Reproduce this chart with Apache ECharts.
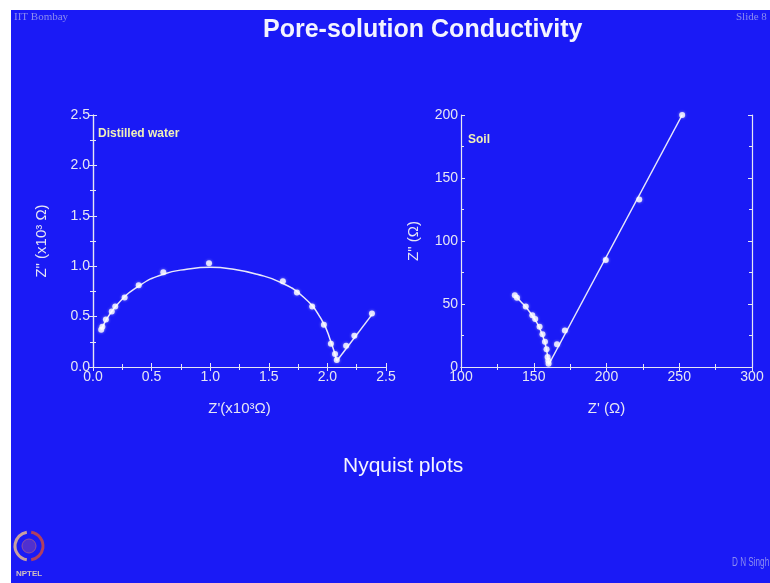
<!DOCTYPE html>
<html><head><meta charset="utf-8">
<script src="https://cdn.jsdelivr.net/npm/echarts@6/dist/echarts.min.js"></script>
<style>html,body{margin:0;padding:0;background:#fff}#c{width:770px;height:583px}</style>
</head><body><div id="c"></div>
<script>
// Distilled water (x10^3 ohm)
const waterPoints = [[0.07,0.37],[0.08,0.40],[0.11,0.47],[0.16,0.55],[0.19,0.60],[0.27,0.69],[0.39,0.81],[0.60,0.94],[0.99,1.03],[1.62,0.85],[1.74,0.74],[1.87,0.60],[1.97,0.42],[2.03,0.23],[2.065,0.13],[2.08,0.07],[2.16,0.21],[2.23,0.31],[2.38,0.53]];
const waterArc = [[0.07,0.37],[0.2,0.61],[0.4,0.81],[0.6,0.92],[0.8,0.97],[1.0,0.99],[1.2,0.97],[1.4,0.92],[1.6,0.84],[1.8,0.69],[1.95,0.47],[2.03,0.25],[2.08,0.06]];
const waterTail = [[2.08,0.06],[2.38,0.52]];
// Soil (ohm)
const soilPoints = [[137,57],[138.5,55],[144.5,48],[149,41],[151,38],[154,32],[156,26],[157.7,20],[158.8,14],[159.5,8],[160,5],[160.2,2.5],[166,18],[171.4,29],[199.5,85],[222.5,133],[252,200]];
const soilArc = [[137,57],[141,52],[145,47],[150,39],[154,31],[157.5,20],[159.5,9],[160.3,2]];
const soilTail = [[160.3,2],[252,200]];
const leftXTicks = [0,2.5,0.5];
const leftYTicks = [0,2.5,0.5];
const rightXTicks = [100,300,50];
const rightYTicks = [0,200,50];

const BLUE = '#1a1af6';
const FG = '#e6e6f4';
const FONT = 'Liberation Sans, Arial';
const lab = {color: FG, fontFamily: FONT, fontSize: 14};
function axisX(gi, t, name, fmt, pos) {
  return {type:'value', gridIndex: gi, min:t[0], max:t[1], interval:t[2], position: pos||'bottom',
    name: pos==='top'?'':name, nameLocation:'middle', nameGap: 34,
    nameTextStyle:{color:FG, fontFamily:FONT, fontSize:15},
    axisLine:{show:true, lineStyle:{color:FG, width:1.2}},
    axisTick:{show:true, inside:true, length:4, lineStyle:{color:FG}},
    minorTick:{show:true, splitNumber:2, length:3, lineStyle:{color:FG}},
    axisLabel: pos==='top'?{show:false}:Object.assign({formatter: fmt, margin: 3}, lab),
    splitLine:{show:false}};
}
function axisY(gi, t, name, fmt, pos, gap) {
  return {type:'value', gridIndex: gi, min:t[0], max:t[1], interval:t[2], position: pos||'left',
    name: pos==='right'?'':name, nameLocation:'middle', nameGap: gap||40, nameRotate: 90,
    nameTextStyle:{color:FG, fontFamily:FONT, fontSize:15},
    axisLine:{show:true, lineStyle:{color:FG, width:1.2}},
    axisTick:{show:true, inside:true, length:4, lineStyle:{color:FG}},
    minorTick:{show:true, splitNumber:2, length:3, lineStyle:{color:FG}},
    axisLabel: pos==='right'?{show:false}:Object.assign({formatter: fmt, margin: 3}, lab),
    splitLine:{show:false}};
}
const f1 = v => v.toFixed(1);
const f0 = v => String(v);
const chart = echarts.init(document.getElementById('c'));
const lineStyle = {color:'#e8e8fa', width:1.5};
const pt = {color:'#ffffff', shadowColor:'rgba(255,255,255,0.6)', shadowBlur:3};
chart.setOption({
  backgroundColor:'#ffffff',
  animation:false,
  graphic:[
    {type:'rect', z:-100, shape:{x:11,y:10,width:759,height:573}, style:{fill:BLUE}},
    {type:'text', left:14, top:12, style:{text:'IIT Bombay', fill:'#8c8cf0', font:'11px Liberation Serif'}},
    {type:'text', left:736, top:12, style:{text:'Slide 8', fill:'#8c8cf0', font:'11px Liberation Serif'}},
    {type:'text', left:263, top:18, style:{text:'Pore-solution Conductivity', fill:'#f4f4ff', font:'bold 25px Liberation Sans'}},
    {type:'text', left:343, top:456, style:{text:'Nyquist plots', fill:'#f4f4ff', font:'21px Liberation Sans'}},
    {type:'text', x:732, y:557, scaleX:0.68, style:{text:'D N Singh', fill:'#8c8cf0', font:'12px Liberation Sans', textAlign:'left'}},
    {type:'text', left:98, top:128, style:{text:'Distilled water', fill:'#f0f0b8', font:'bold 12px Liberation Sans'}},
    {type:'text', left:468, top:134, style:{text:'Soil', fill:'#f0f0b8', font:'bold 12px Liberation Sans'}},
    {type:'arc', shape:{cx:29,cy:546,r:14,startAngle:Math.PI*0.55,endAngle:Math.PI*1.45}, style:{stroke:'#c8a0a0',lineWidth:3,fill:null}},
    {type:'arc', shape:{cx:29,cy:546,r:14,startAngle:-Math.PI*0.45,endAngle:Math.PI*0.45}, style:{stroke:'#b04060',lineWidth:3,fill:null}},
    {type:'circle', shape:{cx:29,cy:546,r:7}, style:{stroke:'#9050a0',lineWidth:1,fill:'#5030d0'}},
    {type:'text', left:16, top:570, style:{text:'NPTEL', fill:'#d0c0c0', font:'bold 8px Liberation Sans'}}
  ],
  grid:[
    {left:93, top:115, width:293, height:252},
    {left:461, top:115, width:291, height:252}
  ],
  xAxis:[
    axisX(0, leftXTicks, "Z'(x10³Ω)", f1),
    axisX(0, leftXTicks, '', f1, 'top'),
    axisX(1, rightXTicks, "Z' (Ω)", f0),
    axisX(1, rightXTicks, '', f0, 'top')
  ],
  yAxis:[
    axisY(0, leftYTicks, 'Z" (x10³ Ω)', f1, 'left', 44),
    axisY(0, leftYTicks, '', f1, 'right'),
    axisY(1, rightYTicks, 'Z" (Ω)', f0, 'left', 40),
    axisY(1, rightYTicks, '', f0, 'right')
  ],
  series:[
    {type:'line', xAxisIndex:0, yAxisIndex:0, data:waterArc, smooth:0.5, showSymbol:false, lineStyle:lineStyle, z:2},
    {type:'line', xAxisIndex:0, yAxisIndex:0, data:waterTail, showSymbol:false, lineStyle:lineStyle, z:2},
    {type:'scatter', xAxisIndex:0, yAxisIndex:0, data:waterPoints, symbolSize:6, itemStyle:pt, z:3},
    {type:'line', xAxisIndex:2, yAxisIndex:2, data:soilArc, smooth:0.5, showSymbol:false, lineStyle:lineStyle, z:2},
    {type:'line', xAxisIndex:2, yAxisIndex:2, data:soilTail, showSymbol:false, lineStyle:lineStyle, z:2},
    {type:'scatter', xAxisIndex:2, yAxisIndex:2, data:soilPoints, symbolSize:6, itemStyle:pt, z:3}
  ]
});
</script></body></html>
